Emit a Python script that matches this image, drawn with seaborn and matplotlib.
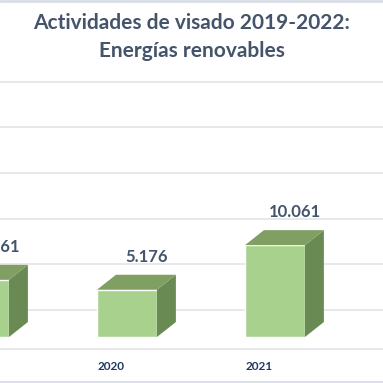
import matplotlib
matplotlib.use("Agg")
import matplotlib.pyplot as plt
from matplotlib.patches import Polygon
from matplotlib.transforms import ScaledTranslation
from matplotlib.lines import Line2D
import numpy as np
import pandas as pd
import seaborn as sns

# data (2022 bar sits outside the visible crop)
years = ["2019", "2020", "2021", "2022"]
values = [6261, 5176, 10061, 12000]
value_labels = ["6.261", "5.176", "10.061", "12.000"]
grid_levels = [0, 5000, 10000, 15000, 20000, 25000]

FRONT = "#A9D18E"
TOP = "#7F9F63"
SIDE = "#6A8A53"
TITLE_COL = "#44546A"
YEAR_COL = "#1F3864"
GRID_COL = "#E4E4E8"

sns.set_theme(style="white")
plt.rcParams["font.family"] = ["Lato", "DejaVu Sans"]

fig = plt.figure(figsize=(3.83, 3.83), dpi=100)
ax = fig.add_axes([0, 0, 1, 1])

df = pd.DataFrame({"year": years, "value": values})
bar_w = 0.405
sns.barplot(data=df, x="year", y="value", width=bar_w, color=FRONT,
            saturation=1, ax=ax, zorder=3)

x_lo, x_hi = 0.142, 2.730
ax.set_xlim(x_lo, x_hi)
ax.set_ylim(-46 * 109.5, 337 * 109.5)
ax.axis("off")


def px(dx, dy):
    return ax.transData + ScaledTranslation(dx / 100, dy / 100, fig.dpi_scale_trans)


# back-wall gridlines + floor edge
for g in grid_levels:
    ax.plot([-1, 4], [g, g], color=GRID_COL, lw=1.2, transform=px(0, 27), zorder=1)
ax.plot([-1, 4], [0, 0], color=GRID_COL, lw=1.2, transform=px(0, -12), zorder=1)

# 3D depth faces and labels
dx, dy = 0.128, 1640
for i, v in enumerate(values):
    l, r = i - bar_w / 2, i + bar_w / 2
    ax.add_patch(Polygon([(r, 0), (r + dx, dy), (r + dx, v + dy), (r, v)],
                         closed=True, fc=SIDE, ec="none", zorder=3))
    ax.add_patch(Polygon([(l, v), (l + dx, v + dy), (r + dx, v + dy), (r, v)],
                         closed=True, fc=TOP, ec="none", zorder=3))
    # value label (partly visible for 2019, hidden for 2022)
    if x_lo - 0.4 < i < x_hi:
        ax.text(i, v, value_labels[i], transform=px(20, 33), ha="center", va="center",
                fontsize=12, fontweight="bold", color=TITLE_COL, zorder=5)
    if x_lo < i < x_hi:
        ax.text(i, 0, years[i], transform=px(-16, -29), ha="center", va="center",
                fontsize=8.5, fontweight="bold", color=YEAR_COL, zorder=5)

fig.text(0.5, 1 - 23 / 383, "Actividades de visado 2019-2022:", ha="center",
         va="center", fontsize=15, fontweight="bold", color=TITLE_COL)
fig.text(0.5, 1 - 51 / 383, "Energías renovables", ha="center",
         va="center", fontsize=15, fontweight="bold", color=TITLE_COL)

# chart border (top/bottom visible in the crop)
fig.add_artist(Line2D([0, 1], [0.998, 0.998], color="#D9DEE6", lw=2))
fig.add_artist(Line2D([0, 1], [0.002, 0.002], color="#D9DEE6", lw=2))

fig.savefig("out.png", dpi=100)
